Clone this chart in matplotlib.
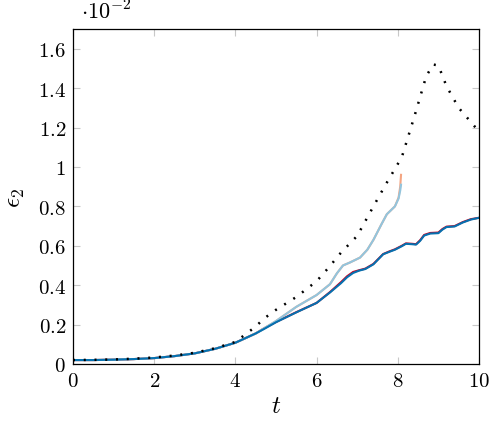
import matplotlib.pyplot as plt
from matplotlib.ticker import FuncFormatter

plt.rcParams['mathtext.fontset'] = 'cm'
plt.rcParams['font.family'] = 'serif'
plt.rcParams['font.serif'] = ['DejaVu Serif']

# reference (dotted black)
t_ref = [0, 0.5, 1, 1.5, 2, 2.5, 3, 3.5, 4, 4.5, 4.7, 5, 5.5, 6, 6.3, 6.6, 7, 7.4, 7.7, 8.1,
         8.4, 8.7, 8.87, 9.0, 9.2, 9.5, 9.75, 10]
e_ref = [0.020, 0.021, 0.023, 0.027, 0.033, 0.043, 0.057, 0.080, 0.112, 0.19, 0.23, 0.275, 0.34,
         0.42, 0.49, 0.565, 0.65, 0.80, 0.91, 1.05, 1.25, 1.46, 1.52, 1.515, 1.41, 1.30, 1.24, 1.18]

# long runs (dark red / dark blue)
t_long = [0, 0.5, 1, 1.5, 2, 2.5, 3, 3.5, 4, 4.5, 4.7, 5, 5.5, 6, 6.33, 6.6, 6.75, 6.9, 7.05,
          7.2, 7.4, 7.64, 7.8, 7.93, 8.1, 8.2, 8.35, 8.45, 8.55, 8.65, 8.8, 9.0, 9.1, 9.2, 9.4,
          9.6, 9.8, 10]
e_red = [0.020, 0.020, 0.022, 0.025, 0.030, 0.040, 0.054, 0.077, 0.108, 0.155, 0.18, 0.213, 0.263,
         0.31, 0.365, 0.415, 0.445, 0.467, 0.476, 0.484, 0.508, 0.558, 0.572, 0.582, 0.60, 0.612,
         0.61, 0.608, 0.628, 0.655, 0.665, 0.667, 0.685, 0.697, 0.70, 0.72, 0.735, 0.742]
e_blue = [0.020, 0.020, 0.022, 0.025, 0.030, 0.040, 0.054, 0.077, 0.108, 0.155, 0.177, 0.212,
          0.262, 0.31, 0.363, 0.41, 0.44, 0.462, 0.474, 0.482, 0.506, 0.557, 0.57, 0.58, 0.598,
          0.61, 0.608, 0.606, 0.625, 0.652, 0.662, 0.664, 0.682, 0.695, 0.698, 0.718, 0.733, 0.742]

# short runs (light orange / light blue)
t_short = [0, 0.5, 1, 1.5, 2, 2.5, 3, 3.5, 4, 4.5, 5, 5.5, 6, 6.33, 6.5, 6.65, 6.82, 7.07, 7.25,
           7.4, 7.6, 7.73, 7.93, 8.02, 8.06, 8.08]
e_lblue = [0.020, 0.020, 0.022, 0.025, 0.030, 0.040, 0.054, 0.077, 0.108, 0.155, 0.218, 0.29,
           0.35, 0.405, 0.46, 0.50, 0.515, 0.54, 0.58, 0.63, 0.71, 0.76, 0.80, 0.84, 0.88, 0.91]
e_orange = [0.020, 0.020, 0.022, 0.025, 0.030, 0.040, 0.054, 0.077, 0.108, 0.155, 0.218, 0.29,
            0.35, 0.405, 0.46, 0.50, 0.515, 0.54, 0.58, 0.63, 0.71, 0.76, 0.80, 0.845, 0.90, 0.96]

fig = plt.figure(figsize=(4.98, 4.27), dpi=100)
ax = fig.add_axes([0.1466, 0.1452, 0.8152, 0.7845])

ax.plot(t_long, e_red, color='#ca0020', lw=1.5)
ax.plot(t_short, e_orange, color='#f4a582', lw=1.5)
ax.plot(t_short, e_lblue, color='#92c5de', lw=1.5)
ax.plot(t_long, e_blue, color='#0571b0', lw=1.5)
ax.plot(t_ref, e_ref, color='black', lw=1.8, linestyle=(0, (0.8, 3.5)))

ax.set_xlim(0, 10)
ax.set_ylim(0, 1.7)
ax.set_xticks([0, 2, 4, 6, 8, 10])
ax.set_yticks([0, 0.2, 0.4, 0.6, 0.8, 1.0, 1.2, 1.4, 1.6])
ax.xaxis.set_major_formatter(FuncFormatter(lambda v, p: f'${v:g}$'))
ax.yaxis.set_major_formatter(FuncFormatter(lambda v, p: f'${v:g}$'))
ax.tick_params(direction='in', length=5, width=0.8, color='#c8c8c8',
               top=True, right=True, labelsize=15, pad=5)
for s in ax.spines.values():
    s.set_linewidth(0.9)

ax.set_xlabel('$t$', fontsize=18, labelpad=3)
ax.set_ylabel(r'$\epsilon_2$', fontsize=18, labelpad=8)
ax.text(0.02, 1.015, r'$\cdot 10^{-2}$', transform=ax.transAxes, fontsize=16,
        ha='left', va='bottom')

fig.savefig('out.png', dpi=100)
